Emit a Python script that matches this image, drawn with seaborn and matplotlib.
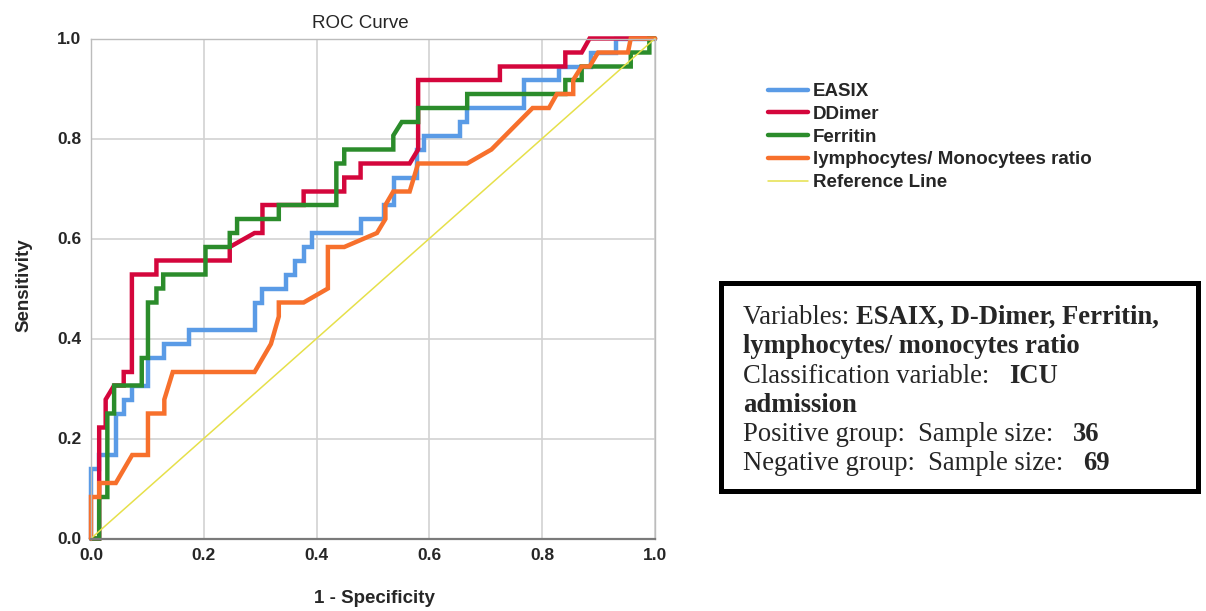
import numpy as np
import pandas as pd
import matplotlib
matplotlib.use('Agg')
import matplotlib.pyplot as plt
from matplotlib.patches import Rectangle
import seaborn as sns

# ROC points: x = 1 - specificity, y = sensitivity
easix_x = [0, 0, 0.0145, 0.0145, 0.0435, 0.0435, 0.058, 0.058, 0.0725, 0.0725, 0.101, 0.101,
           0.13, 0.13, 0.173, 0.173, 0.29, 0.29, 0.304, 0.304, 0.345, 0.345, 0.362, 0.362,
           0.377, 0.377, 0.391, 0.391, 0.478, 0.478, 0.52, 0.52, 0.537, 0.537, 0.578, 0.578,
           0.59, 0.59, 0.655, 0.655, 0.667, 0.667, 0.768, 0.768, 0.83, 0.83, 0.886, 0.886,
           0.93, 0.93, 1.0]
easix_y = [0, 0.139, 0.139, 0.167, 0.167, 0.25, 0.25, 0.278, 0.278, 0.306, 0.306, 0.361,
           0.361, 0.389, 0.389, 0.417, 0.417, 0.472, 0.472, 0.5, 0.5, 0.528, 0.528, 0.556,
           0.556, 0.583, 0.583, 0.611, 0.611, 0.639, 0.639, 0.667, 0.667, 0.722, 0.722, 0.778,
           0.778, 0.806, 0.806, 0.833, 0.833, 0.861, 0.861, 0.917, 0.917, 0.944, 0.944, 0.972,
           0.972, 1.0, 1.0]

ddimer_x = [0, 0.0145, 0.0145, 0.026, 0.026, 0.041, 0.058, 0.058, 0.0725, 0.0725, 0.116, 0.116,
            0.246, 0.246, 0.29, 0.304, 0.304, 0.377, 0.377, 0.449, 0.449, 0.478, 0.478, 0.565,
            0.58, 0.58, 0.725, 0.725, 0.841, 0.841, 0.87, 0.884, 1.0]
ddimer_y = [0, 0, 0.222, 0.222, 0.278, 0.306, 0.306, 0.333, 0.333, 0.528, 0.528, 0.556,
            0.556, 0.583, 0.611, 0.611, 0.667, 0.667, 0.694, 0.694, 0.722, 0.722, 0.75, 0.75,
            0.778, 0.917, 0.917, 0.944, 0.944, 0.972, 0.972, 1.0, 1.0]

ferritin_x = [0, 0.0145, 0.0145, 0.029, 0.029, 0.041, 0.041, 0.09, 0.09, 0.101, 0.101, 0.116,
              0.116, 0.128, 0.128, 0.203, 0.203, 0.246, 0.246, 0.259, 0.259, 0.333, 0.333,
              0.435, 0.435, 0.449, 0.449, 0.536, 0.536, 0.551, 0.58, 0.58, 0.667, 0.667, 0.841,
              0.841, 0.87, 0.87, 0.957, 0.957, 0.99, 0.99, 1.0]
ferritin_y = [0, 0, 0.083, 0.083, 0.25, 0.25, 0.306, 0.306, 0.361, 0.361, 0.472, 0.472,
              0.5, 0.5, 0.528, 0.528, 0.583, 0.583, 0.611, 0.611, 0.639, 0.639, 0.667,
              0.667, 0.75, 0.75, 0.778, 0.778, 0.806, 0.833, 0.833, 0.861, 0.861, 0.889, 0.889,
              0.917, 0.917, 0.944, 0.944, 0.972, 0.972, 1.0, 1.0]

lmr_x = [0, 0, 0.0145, 0.0145, 0.044, 0.073, 0.101, 0.101, 0.13, 0.13, 0.145, 0.29, 0.319,
         0.333, 0.333, 0.377, 0.42, 0.42, 0.449, 0.507, 0.522, 0.522, 0.536, 0.565, 0.58,
         0.667, 0.71, 0.783, 0.812, 0.826, 0.855, 0.855, 0.87, 0.884, 0.899, 0.952, 0.957, 1.0]
lmr_y = [0, 0.083, 0.083, 0.111, 0.111, 0.167, 0.167, 0.25, 0.25, 0.278, 0.333, 0.333, 0.389,
         0.444, 0.472, 0.472, 0.5, 0.583, 0.583, 0.611, 0.639, 0.667, 0.694, 0.694, 0.75,
         0.75, 0.778, 0.861, 0.861, 0.889, 0.889, 0.917, 0.944, 0.944, 0.972, 0.972, 1.0, 1.0]

ref_x = [0, 1]
ref_y = [0, 1]

curve_names = ['EASIX', 'DDimer', 'Ferritin', 'lymphocytes/ Monocytees ratio']
curve_colors = ['#5a9be6', '#d4063c', '#2b8c2b', '#f7702c']
ref_color = '#e6e04a'
xticks = [0.0, 0.2, 0.4, 0.6, 0.8, 1.0]

box_lines = [
    [('Variables: ', 'normal'), ('ESAIX, D-Dimer, Ferritin,', 'bold')],
    [('lymphocytes/ monocytes ratio', 'bold')],
    [('Classification variable:   ', 'normal'), ('ICU', 'bold')],
    [('admission', 'bold')],
    [('Positive group:  Sample size:   ', 'normal'), ('36', 'bold')],
    [('Negative group:  Sample size:   ', 'normal'), ('69', 'bold')],
]

sns.set_theme(style='whitegrid')
plt.rcParams['font.family'] = ['Liberation Sans', 'DejaVu Sans']

frames = []
for name, xs, ys in zip(curve_names, [easix_x, ddimer_x, ferritin_x, lmr_x],
                        [easix_y, ddimer_y, ferritin_y, lmr_y]):
    frames.append(pd.DataFrame({'fpr': xs, 'tpr': ys, 'marker': name}))
df = pd.concat(frames, ignore_index=True)

W, H = 1206, 611
fig = plt.figure(figsize=(W / 100, H / 100), dpi=100)
fig.patch.set_facecolor('white')
ax = fig.add_axes([91 / W, 1 - 538.5 / H, 564 / W, 500 / H])

sns.lineplot(data=df, x='fpr', y='tpr', hue='marker', hue_order=curve_names,
             palette=dict(zip(curve_names, curve_colors)), sort=False, estimator=None,
             lw=3.2, ax=ax)
sns.lineplot(x=ref_x, y=ref_y, color=ref_color, lw=1.1, label='Reference Line', ax=ax)
for ln in ax.lines:
    ln.set_clip_on(False)
    ln.set_solid_joinstyle('miter')

ax.set_xlim(0, 1)
ax.set_ylim(0, 1)
ax.set_xticks(xticks)
ax.set_yticks(xticks)
ax.set_xticklabels([f'{t:.1f}' for t in xticks], fontweight='bold', fontsize=12.5)
ax.set_yticklabels([f'{t:.1f}' for t in xticks], fontweight='bold', fontsize=12.5)
ax.tick_params(length=0, pad=7)
ax.grid(color='#d2d2d2', lw=1.2)
for s in ['left', 'top', 'right']:
    ax.spines[s].set_color('#bcbcbc')
    ax.spines[s].set_linewidth(1)
ax.spines['bottom'].set_color('#7a7a7a')
ax.spines['bottom'].set_linewidth(1.6)

ax.set_xlabel('1 - Specificity', fontweight='bold', fontsize=13.5)
ax.set_ylabel('Sensitivity', fontweight='bold', fontsize=13.5)
ax.xaxis.set_label_coords(0.502, -0.103)
ax.yaxis.set_label_coords(-0.103, 0.507)
ax.text(0.477, 1.021, 'ROC Curve', transform=ax.transAxes, ha='center', va='baseline',
        fontsize=13.5)

h, l = ax.get_legend_handles_labels()
ax.get_legend().remove()
fig.legend(h, l, loc='upper left', bbox_to_anchor=(768 / W, 1 - 83 / H), frameon=False,
           prop={'weight': 'bold', 'size': 13.5}, handlelength=2.13, handletextpad=0.27,
           labelspacing=0.3, borderpad=0, borderaxespad=0)

# info box
fig.add_artist(Rectangle((720.5 / W, 1 - 490.5 / H), 477 / W, 208 / H, transform=fig.transFigure,
                         fill=False, ec='black', lw=3.6))
renderer = fig.canvas.get_renderer()
serif = ['Liberation Serif', 'DejaVu Serif']
box_size = 19.2


def seg_width(s, w):
    a = fig.text(0, 0, '|' + s + '|', family=serif, weight=w, size=box_size)
    b = fig.text(0, 0, '||', family=serif, weight=w, size=box_size)
    d = a.get_window_extent(renderer).width - b.get_window_extent(renderer).width
    a.remove()
    b.remove()
    return d


for i, segs in enumerate(box_lines):
    xpx = 743
    ypx = 324 + 29.3 * i
    for s, w in segs:
        fig.text(xpx / W, 1 - ypx / H, s, family=serif, weight=w, size=box_size,
                 va='baseline', ha='left')
        xpx += seg_width(s, w)

fig.savefig('out.png', dpi=100, facecolor='white')
